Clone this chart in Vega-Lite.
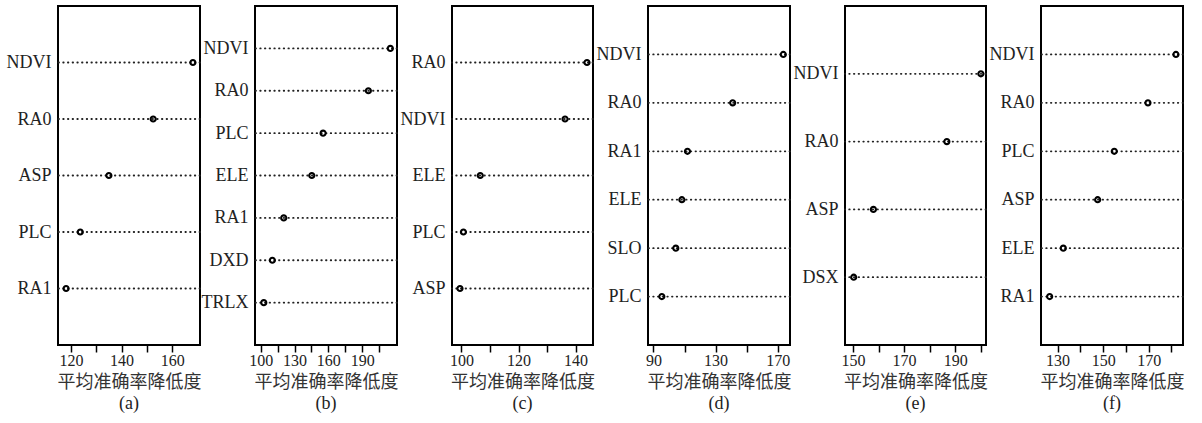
{
  "$schema": "https://vega.github.io/schema/vega-lite/v6.json",
  "background": "white",
  "padding": {"left": 5, "top": 5, "right": 5, "bottom": 3},
  "datasets": {
    "a": [{"var": "NDVI", "v": 168.2}, {"var": "RA0", "v": 152.5}, {"var": "ASP", "v": 135.0}, {"var": "PLC", "v": 123.7}, {"var": "RA1", "v": 118.1}],
    "b": [{"var": "NDVI", "v": 215.0}, {"var": "RA0", "v": 195.5}, {"var": "PLC", "v": 155.3}, {"var": "ELE", "v": 145.3}, {"var": "RA1", "v": 120.4}, {"var": "DXD", "v": 110.3}, {"var": "TRLX", "v": 102.7}],
    "c": [{"var": "RA0", "v": 144.0}, {"var": "NDVI", "v": 136.3}, {"var": "ELE", "v": 106.6}, {"var": "PLC", "v": 100.7}, {"var": "ASP", "v": 99.5}],
    "d": [{"var": "NDVI", "v": 173.6}, {"var": "RA0", "v": 141.0}, {"var": "RA1", "v": 111.9}, {"var": "ELE", "v": 108.3}, {"var": "SLO", "v": 104.4}, {"var": "PLC", "v": 95.4}],
    "e": [{"var": "NDVI", "v": 200.0}, {"var": "RA0", "v": 186.7}, {"var": "ASP", "v": 158.0}, {"var": "DSX", "v": 150.3}],
    "f": [{"var": "NDVI", "v": 182.0}, {"var": "RA0", "v": 169.7}, {"var": "PLC", "v": 154.9}, {"var": "ASP", "v": 147.6}, {"var": "ELE", "v": 132.5}, {"var": "RA1", "v": 126.5}]
  },
  "spacing": 55,
  "bounds": "flush",
  "hconcat": [
    {
      "width": 142, "height": 339,
      "data": {"name": "a"},
      "title": {"text": "(a)"},
      "encoding": {
        "y": {"field": "var", "type": "nominal", "sort": null, "scale": {"type": "point", "padding": 1}, "axis": {"title": null}}
      },
      "layer": [
        {"mark": {"type": "rule", "strokeDash": [0.5, 4.2], "strokeCap": "round", "strokeWidth": 1.8, "color": "#222"}},
        {"mark": {"type": "point", "shape": "circle", "filled": false, "size": 26, "strokeWidth": 2.1, "color": "black", "opacity": 1},
         "encoding": {"x": {"field": "v", "type": "quantitative", "scale": {"domain": [114.9, 171], "nice": false, "zero": false},
           "axis": {"title": "平均准确率降低度", "values": [120, 130, 140, 150, 160], "labelExpr": "datum.value % 20 == 0 ? datum.label : ''"}}}}
      ]
    },
    {
      "width": 142, "height": 339,
      "data": {"name": "b"},
      "title": {"text": "(b)"},
      "encoding": {
        "y": {"field": "var", "type": "nominal", "sort": null, "scale": {"type": "point", "padding": 1}, "axis": {"title": null}}
      },
      "layer": [
        {"mark": {"type": "rule", "strokeDash": [0.5, 4.2], "strokeCap": "round", "strokeWidth": 1.8, "color": "#222"}},
        {"mark": {"type": "point", "shape": "circle", "filled": false, "size": 26, "strokeWidth": 2.1, "color": "black", "opacity": 1},
         "encoding": {"x": {"field": "v", "type": "quantitative", "scale": {"domain": [94.9, 220.9], "nice": false, "zero": false},
           "axis": {"title": "平均准确率降低度", "values": [100, 115, 130, 145, 160, 175, 190, 205], "labelExpr": "(datum.value - 100) % 30 == 0 ? datum.label : ''"}}}}
      ]
    },
    {
      "width": 141, "height": 339,
      "data": {"name": "c"},
      "title": {"text": "(c)"},
      "encoding": {
        "y": {"field": "var", "type": "nominal", "sort": null, "scale": {"type": "point", "padding": 1}, "axis": {"title": null}}
      },
      "layer": [
        {"mark": {"type": "rule", "strokeDash": [0.5, 4.2], "strokeCap": "round", "strokeWidth": 1.8, "color": "#222"}},
        {"mark": {"type": "point", "shape": "circle", "filled": false, "size": 26, "strokeWidth": 2.1, "color": "black", "opacity": 1},
         "encoding": {"x": {"field": "v", "type": "quantitative", "scale": {"domain": [96.7, 146.1], "nice": false, "zero": false},
           "axis": {"title": "平均准确率降低度", "values": [100, 110, 120, 130, 140], "labelExpr": "datum.value % 20 == 0 ? datum.label : ''"}}}}
      ]
    },
    {
      "width": 142, "height": 339,
      "data": {"name": "d"},
      "title": {"text": "(d)"},
      "encoding": {
        "y": {"field": "var", "type": "nominal", "sort": null, "scale": {"type": "point", "padding": 1}, "axis": {"title": null}}
      },
      "layer": [
        {"mark": {"type": "rule", "strokeDash": [0.5, 4.2], "strokeCap": "round", "strokeWidth": 1.8, "color": "#222"}},
        {"mark": {"type": "point", "shape": "circle", "filled": false, "size": 26, "strokeWidth": 2.1, "color": "black", "opacity": 1},
         "encoding": {"x": {"field": "v", "type": "quantitative", "scale": {"domain": [86.5, 177.9], "nice": false, "zero": false},
           "axis": {"title": "平均准确率降低度", "values": [90, 110, 130, 150, 170], "labelExpr": "(datum.value - 90) % 40 == 0 ? datum.label : ''"}}}}
      ]
    },
    {
      "width": 141, "height": 339,
      "data": {"name": "e"},
      "title": {"text": "(e)"},
      "encoding": {
        "y": {"field": "var", "type": "nominal", "sort": null, "scale": {"type": "point", "padding": 1}, "axis": {"title": null}}
      },
      "layer": [
        {"mark": {"type": "rule", "strokeDash": [0.5, 4.2], "strokeCap": "round", "strokeWidth": 1.8, "color": "#222"}},
        {"mark": {"type": "point", "shape": "circle", "filled": false, "size": 26, "strokeWidth": 2.1, "color": "black", "opacity": 1},
         "encoding": {"x": {"field": "v", "type": "quantitative", "scale": {"domain": [146.9, 202], "nice": false, "zero": false},
           "axis": {"title": "平均准确率降低度", "values": [150, 160, 170, 180, 190, 200], "labelExpr": "(datum.value - 150) % 20 == 0 ? datum.label : ''"}}}}
      ]
    },
    {
      "width": 142, "height": 339,
      "data": {"name": "f"},
      "title": {"text": "(f)"},
      "encoding": {
        "y": {"field": "var", "type": "nominal", "sort": null, "scale": {"type": "point", "padding": 1}, "axis": {"title": null}}
      },
      "layer": [
        {"mark": {"type": "rule", "strokeDash": [0.5, 4.2], "strokeCap": "round", "strokeWidth": 1.8, "color": "#222"}},
        {"mark": {"type": "point", "shape": "circle", "filled": false, "size": 26, "strokeWidth": 2.1, "color": "black", "opacity": 1},
         "encoding": {"x": {"field": "v", "type": "quantitative", "scale": {"domain": [122.7, 185.1], "nice": false, "zero": false},
           "axis": {"title": "平均准确率降低度", "values": [130, 140, 150, 160, 170, 180], "labelExpr": "(datum.value - 130) % 20 == 0 ? datum.label : ''"}}}}
      ]
    }
  ],
  "config": {
    "view": {"stroke": "black", "strokeWidth": 2},
    "axisX": {"domain": false, "grid": false, "ticks": true, "tickSize": 7, "tickWidth": 1.5, "tickColor": "black",
      "labelFont": "Liberation Serif", "labelFontSize": 16, "labelColor": "#222", "labelPadding": 0,
      "labelOverlap": false, "labelFlush": false, "labelBound": false,
      "titleFont": "Noto Sans CJK SC", "titleFontSize": 18, "titleFontWeight": "normal", "titleColor": "#333", "titlePadding": 5},
    "axisY": {"domain": false, "grid": false, "ticks": false, "labelPadding": 7,
      "labelFont": "Liberation Serif", "labelFontSize": 18, "labelColor": "#222"},
    "title": {"orient": "bottom", "anchor": "middle", "font": "Liberation Serif", "fontSize": 18, "fontWeight": "normal", "color": "#222", "offset": 4}
  }
}
